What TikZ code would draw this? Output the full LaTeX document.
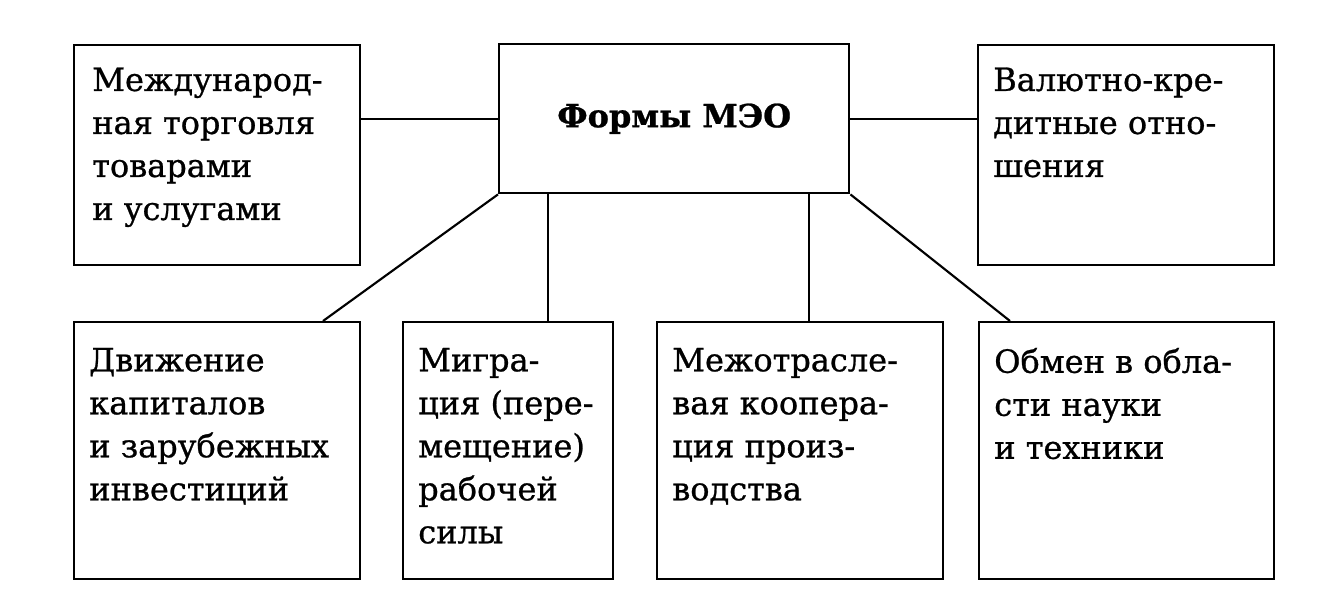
\documentclass[tikz,border=0pt]{standalone}
\usepackage{fontspec}
\setmainfont{DejaVu Serif}[FakeBold=0.8]
\usetikzlibrary{calc}
\begin{document}
\begin{tikzpicture}[x=0.75pt,y=-0.75pt,
  box/.style={draw, line width=1.8pt, inner sep=0pt, anchor=north west},
  sz/.style 2 args={minimum width={#1*0.75pt}, minimum height={#2*0.75pt}},
  txt/.style={anchor=north west, align=left, inner sep=0pt,
    font=\fontsize{24}{32.25}\selectfont},
  link/.style={line width=1.6pt}]
\useasboundingbox (0,0) rectangle (1326,610);
% boxes
\node[box, sz={286}{220}] (TL) at (73,44) {};
\node[box, sz={350}{149}] (C) at (498,43) {};
\node[font=\fontsize{24}{30}\selectfont\bfseries, inner sep=0pt] (Ct) at (C.center) {Формы МЭО};
\node[box, sz={296}{220}] (TR) at (977,44) {};
\node[box, sz={286}{257}] (B1) at (73,321) {};
\node[box, sz={210}{257}] (B2) at (402,321) {};
\node[box, sz={286}{257}] (B3) at (656,321) {};
\node[box, sz={295}{257}] (B4) at (978,321) {};
% texts
\node[txt] (tTL) at ([xshift=14.25pt,yshift=-17.5pt]TL.north west) {Международ-\\ная торговля\\товарами\\и услугами};
\node[txt] (tTR) at ([xshift=12pt,yshift=-17.5pt]TR.north west) {Валютно-кре-\\дитные отно-\\шения};
\node[txt] (tB1) at ([xshift=12pt,yshift=-20pt]B1.north west) {Движение\\капиталов\\и зарубежных\\инвестиций};
\node[txt] (tB2) at ([xshift=12pt,yshift=-20pt]B2.north west) {Мигра-\\ция (пере-\\мещение)\\рабочей\\силы};
\node[txt] (tB3) at ([xshift=12pt,yshift=-20pt]B3.north west) {Межотрасле-\\вая коопера-\\ция произ-\\водства};
\node[txt] (tB4) at ([xshift=12pt,yshift=-20pt]B4.north west) {Обмен в обла-\\сти науки\\и техники};
% connectors
\coordinate (c1) at ([xshift=37.5pt]C.south west);
\coordinate (c2) at ([xshift=-30.75pt]C.south east);
\coordinate (d1) at ([xshift=187.5pt]B1.north west);
\coordinate (d4) at ([xshift=24pt]B4.north west);
\draw[link] (C.west) -- (C.west -| TL.east);
\draw[link] (C.east) -- (C.east -| TR.west);
\draw[link] (C.south west) -- (d1);
\draw[link] (c1) -- (c1 |- B2.north);
\draw[link] (c2) -- (c2 |- B3.north);
\draw[link] (C.south east) -- (d4);
\end{tikzpicture}
\end{document}
